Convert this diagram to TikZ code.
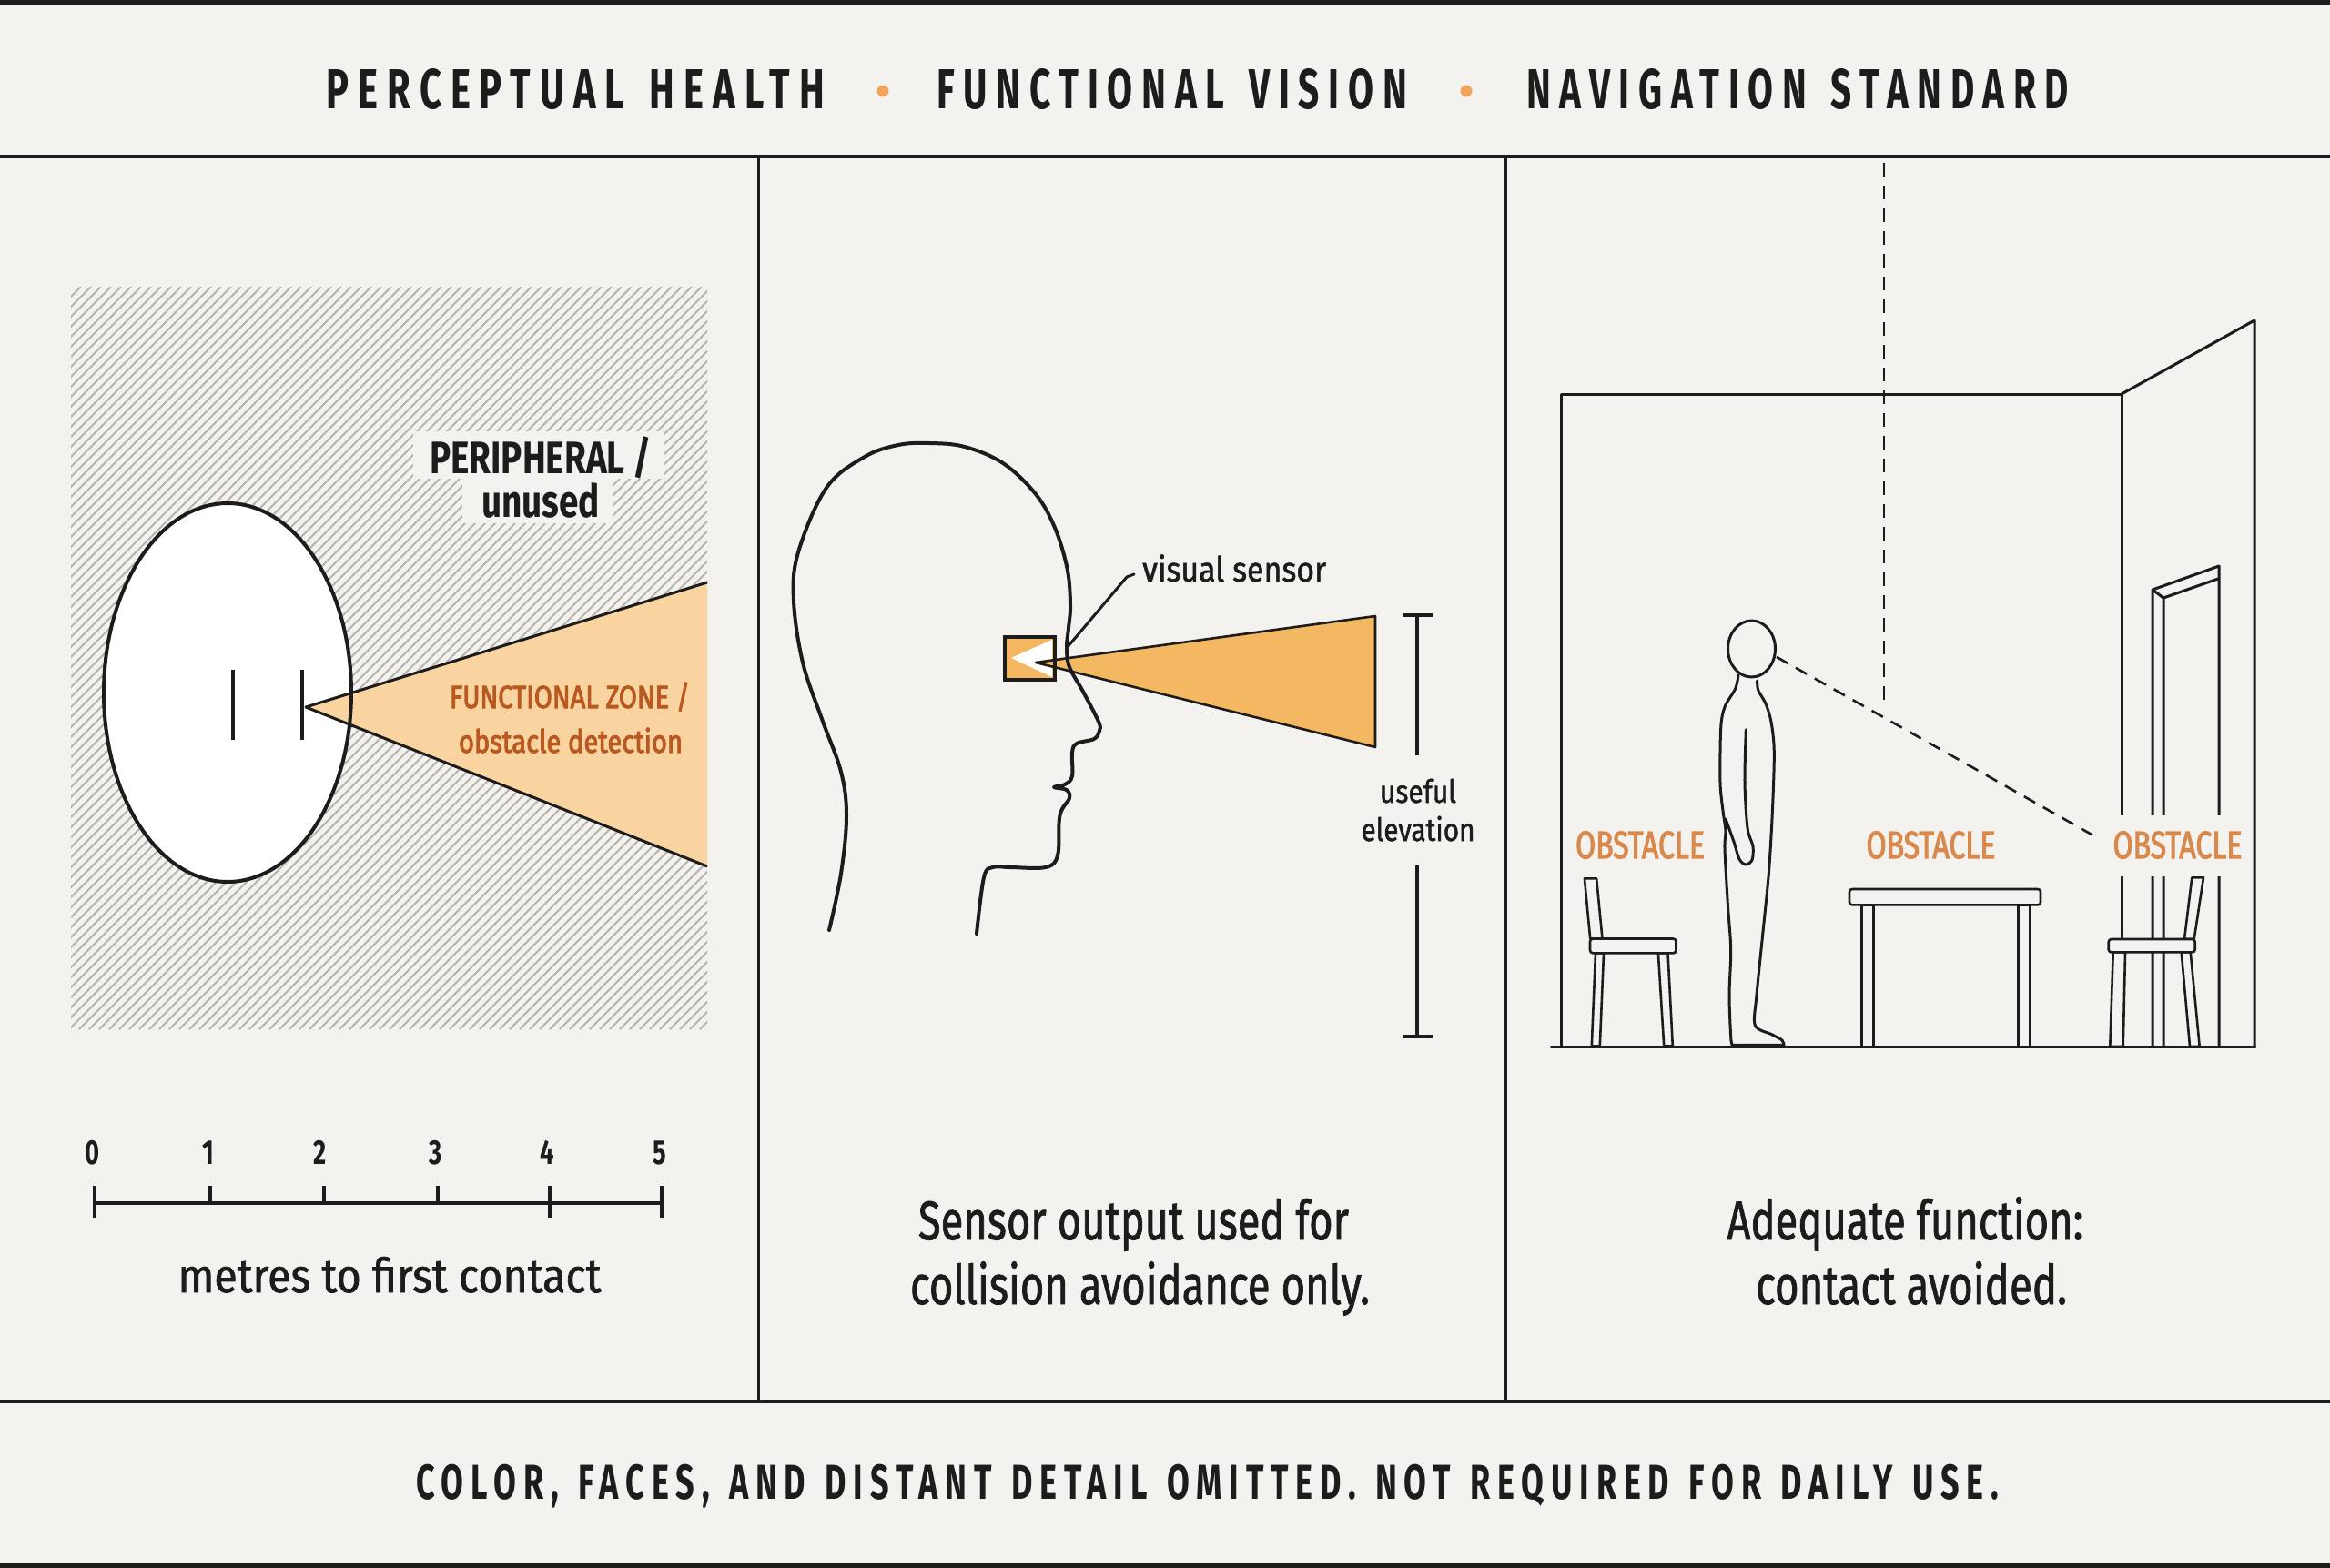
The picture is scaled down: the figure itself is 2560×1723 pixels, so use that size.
\documentclass[tikz,border=0pt]{standalone}
\usepackage{fontspec}
\usepackage{graphicx}
\setmainfont{Fira Sans}
\newfontfamily\hdrfont[LetterSpace=24,WordSpace=1.4]{Fira Sans}
\newfontfamily\ftrfont[LetterSpace=22,WordSpace=1.3]{Fira Sans}
\definecolor{bg}{HTML}{F4F2EE}
\definecolor{ink}{HTML}{1C1C1C}
\definecolor{hatchc}{HTML}{B7B2AC}
\definecolor{peach}{HTML}{F9D4A0}
\definecolor{orng}{HTML}{F4B862}
\definecolor{dotc}{HTML}{F2A45B}
\definecolor{zonec}{HTML}{B9581F}
\definecolor{obstc}{HTML}{D9894C}
\newcommand\fitto[2]{\resizebox{#1pt}{\height}{#2}}
\tikzset{
  txt/.style={inner sep=0pt, anchor=base, text=ink},
  frame/.style={draw=ink, line width=4.5pt},
  thick ink/.style={draw=ink, line width=4pt, line join=round, line cap=round},
  room/.style={draw=ink, line width=3pt, line join=round, line cap=round},
  furn/.style={fill=bg, draw=ink, line width=2.6pt, line join=round},
  hatchline/.style={draw=hatchc, line width=1.8pt},
  obst/.style={inner sep=0pt, anchor=base, text=obstc},
}
\begin{document}
\begin{tikzpicture}[x=1pt,y=-1pt]
\useasboundingbox (0,0) rectangle (2560,1723);
\fill[bg] (0,0) rectangle (2560,1723);

% ---------- frame ----------
\draw[frame] (0,2.5) -- (2560,2.5);
\draw[frame] (0,172) -- (2560,172);
\draw[frame] (0,1540) -- (2560,1540);
\draw[frame] (0,1720.5) -- (2560,1720.5);
\draw[draw=ink, line width=3pt] (833,172) -- (833,1540);
\draw[draw=ink, line width=3pt] (1654,172) -- (1654,1540);

% ---------- header ----------
\node[txt] (h1) at (632.5,120) {\hdrfont\bfseries\fontsize{62}{70}\selectfont\fitto{547}{PERCEPTUAL HEALTH}};
\node[txt] (h2) at (1287.5,120) {\hdrfont\bfseries\fontsize{62}{70}\selectfont\fitto{517}{FUNCTIONAL VISION}};
\node[txt] (h3) at (1975,120) {\hdrfont\bfseries\fontsize{62}{70}\selectfont\fitto{596}{NAVIGATION STANDARD}};
\fill[dotc] (970,100) circle (6.5);
\fill[dotc] (1611,100) circle (6.5);

% ---------- footer ----------
\node[txt] (foot) at (1326.5,1647) {\ftrfont\bfseries\fontsize{54}{60}\selectfont\fitto{1739}{COLOR, FACES, AND DISTANT DETAIL OMITTED. NOT REQUIRED FOR DAILY USE.}};

% ---------- left panel ----------
\begin{scope}
  \clip (78,315) rectangle (777,1131);
  \foreach \i in {0,11,...,1540} \draw[hatchline] ({\i-738},1131) -- ({\i+78},315);
\end{scope}
\fill[bg] (454,474) rectangle (730,526);
\fill[bg] (508,526) rectangle (673,575);
\fill[white] (250,761) ellipse [x radius=136, y radius=208];
\fill[peach] (336,777) -- (777,640) -- (777,952) -- cycle;
\draw[thick ink] (250,761) ellipse [x radius=136, y radius=208];
\draw[draw=ink, line width=3pt, line join=round] (777,640) -- (336,777) -- (777,952);
\draw[thick ink, line cap=butt] (256,736) -- (256,813);
\draw[thick ink, line cap=butt] (332,736) -- (332,813);

\node[txt] (per1) at (594,520) {\fontsize{50}{56}\selectfont\bfseries\fitto{244}{PERIPHERAL /}};
\node[txt] (per2) at (594,568) {\fontsize{50}{56}\selectfont\bfseries\fitto{130}{unused}};
\node[txt, text=zonec] (zone1) at (626,778) {\fontsize{35}{40}\selectfont\addfontfeature{FakeBold=3}\fitto{264}{FUNCTIONAL ZONE /}};
\node[txt, text=zonec] (zone2) at (627,827) {\fontsize{35}{40}\selectfont\addfontfeature{FakeBold=3}\fitto{246}{obstacle detection}};

% scale bar
\draw[draw=ink, line width=4pt] (104,1322) -- (727,1322);
\foreach \x in {104,604,727} \draw[draw=ink, line width=4pt] (\x,1303) -- (\x,1338);
\foreach \x in {231,356,481} \draw[draw=ink, line width=4pt] (\x,1303) -- (\x,1322);
\node[txt] (n0) at (102,1279) {\fontsize{38}{44}\selectfont\bfseries\scalebox{0.72}[1]{0}};
\node[txt] (n1) at (229,1279) {\fontsize{38}{44}\selectfont\bfseries\scalebox{0.72}[1]{1}};
\node[txt] (n2) at (352,1279) {\fontsize{38}{44}\selectfont\bfseries\scalebox{0.72}[1]{2}};
\node[txt] (n3) at (479,1279) {\fontsize{38}{44}\selectfont\bfseries\scalebox{0.72}[1]{3}};
\node[txt] (n4) at (601,1279) {\fontsize{38}{44}\selectfont\bfseries\scalebox{0.72}[1]{4}};
\node[txt] (n5) at (725,1279) {\fontsize{38}{44}\selectfont\bfseries\scalebox{0.72}[1]{5}};
\node[txt] (metres) at (428,1420) {\fontsize{52}{60}\selectfont\addfontfeature{FakeBold=1.5}\fitto{465}{metres to first contact}};

% ---------- middle panel ----------
\fill[orng] (1104,700) rectangle (1159,747);
\fill[white] (1111,723) -- (1156,703) -- (1156,744) -- cycle;
\filldraw[fill=orng, draw=ink, line width=2.6pt, line join=round] (1138,728) -- (1511,677) -- (1511,821) -- cycle;
\draw[draw=ink, line width=4pt] (1104,700) rectangle (1159,747);
\draw[thick ink] plot[smooth, tension=0.6] coordinates {
 (911,1022) (924,960) (930,897) (924,848) (903,790) (882,728) (872,660) (877,607)
 (908,536) (950,502) (987,489) (1021,487) (1060,491) (1102,509) (1138,543)
 (1159,580) (1172.6,625) (1176,665) (1174,690)
 (1172,712) (1175,733) (1190,760) (1207,793) (1208,803) (1202,812) (1183,817)
 (1178,827) (1178,853) (1170,862) (1158,865) (1172,868) (1175,877) (1167,889)
 (1163.7,902) (1162,940) (1149,953) (1110,953) (1091,953) (1081,964) (1073,1026)};
\draw[draw=ink, line width=3pt, line join=round, line cap=round] (1172,712) -- (1238,634) -- (1246,631);
\node[txt, anchor=base west] (vis) at (1255,639) {\fontsize{38}{44}\selectfont\addfontfeature{FakeBold=1.5}\fitto{202}{visual sensor}};

\draw[draw=ink, line width=3.5pt] (1541,676) -- (1574,676);
\draw[draw=ink, line width=3.5pt] (1557,676) -- (1557,830);
\draw[draw=ink, line width=3.5pt] (1557,951) -- (1557,1139);
\draw[draw=ink, line width=3.5pt] (1541,1139) -- (1574,1139);
\node[txt] (use1) at (1558,882) {\fontsize{35}{40}\selectfont\addfontfeature{FakeBold=1.5}\fitto{84}{useful}};
\node[txt] (use2) at (1558,924) {\fontsize{35}{40}\selectfont\addfontfeature{FakeBold=1.5}\fitto{125}{elevation}};

\node[txt] (cap1) at (1245.5,1362) {\fontsize{60}{66}\selectfont\addfontfeature{FakeBold=1.5}\fitto{473}{Sensor output used for}};
\node[txt] (cap2) at (1252.5,1433) {\fontsize{60}{66}\selectfont\addfontfeature{FakeBold=1.5}\fitto{505}{collision avoidance only.}};

% ---------- right panel ----------
\draw[room] (1715,1150) -- (1715,433) -- (2331,433) -- (2331,1150);
\draw[room] (2331,433) -- (2477,352) -- (2477,1150);
\draw[draw=ink, line width=2.6pt, dash pattern=on 15pt off 10pt] (2070,179) -- (2070,775);
% door
\draw[room] (2365,1150) -- (2365,648) -- (2438,622) -- (2438,1150);
\draw[room] (2377,1150) -- (2377,657) -- (2437,636);
\draw[room] (2365,648) -- (2377,657);
% sight line
\draw[draw=ink, line width=2.6pt, dash pattern=on 14pt off 10pt] (1952,722) -- (2307,922);
% person
\draw[room] (1924.5,713) ellipse [x radius=26, y radius=31];
\draw[room] plot[smooth, tension=0.5] coordinates {
 (1910,741.7) (1906.7,756.7) (1895,776.7) (1890.7,800) (1890,860) (1893.3,893.3)
 (1896,913) (1895,933) (1898.3,993.3) (1901.7,1043.3) (1900,1093.3) (1901.7,1140) (1903.3,1148.3)}
 -- plot[smooth, tension=0.5] coordinates {
 (1960,1148.3) (1958,1143) (1946.7,1136.7) (1928.3,1126.7) (1930,1093.3) (1936.7,1026.7)
 (1943.3,960) (1947.3,893.3) (1949.3,826.7) (1946,793.3) (1940,773.3) (1931.7,758.3) (1930.7,748)};
\draw[room] plot[smooth, tension=0.5] coordinates {
 (1918.3,801.7) (1917,860) (1920,910) (1926,930) (1925,945) (1918,950) (1911,944) (1905,925) (1896,900)};
% left chair
\filldraw[furn] (1740.9,965.3) -- (1754.1,965.3) -- (1760.5,1031.5) -- (1747.2,1031.5) -- cycle;
\filldraw[furn] (1753,1047.3) -- (1762,1047.3) -- (1757.8,1149.5) -- (1748.8,1149.5) -- cycle;
\filldraw[furn] (1821.9,1047.3) -- (1832.5,1047.3) -- (1837.8,1149.5) -- (1828.2,1149.5) -- cycle;
\filldraw[furn, rounded corners=3pt] (1747,1031.5) rectangle (1841.5,1047.3);
% table
\filldraw[furn] (2045.3,994.4) rectangle (2058.5,1150);
\filldraw[furn] (2217.3,994.4) rectangle (2230.6,1150);
\filldraw[furn, rounded corners=3pt] (2032,977) rectangle (2242,994.4);
% right chair
\filldraw[furn] (2408.3,964.3) -- (2421,964.3) -- (2410.7,1032) -- (2400,1032) -- cycle;
\filldraw[furn] (2321.7,1046.4) -- (2335,1046.4) -- (2332.7,1150) -- (2318.3,1150) -- cycle;
\filldraw[furn] (2396.7,1046.4) -- (2406.7,1046.4) -- (2416.7,1150) -- (2406,1150) -- cycle;
\filldraw[furn, rounded corners=3pt] (2316.7,1032) rectangle (2411.7,1046.4);
\draw[room] (1704,1150) -- (2478,1150);
% labels
\fill[bg] (2316,896) rectangle (2469,963);
\node[obst] (ob1) at (1802,943) {\fontsize{42}{48}\selectfont\addfontfeature{FakeBold=3}\fitto{142}{OBSTACLE}};
\node[obst] (ob2) at (2121.5,943) {\fontsize{42}{48}\selectfont\addfontfeature{FakeBold=3}\fitto{142}{OBSTACLE}};
\node[obst] (ob3) at (2392.5,943) {\fontsize{42}{48}\selectfont\addfontfeature{FakeBold=3}\fitto{142}{OBSTACLE}};

\node[txt] (cap3) at (2093,1362) {\fontsize{60}{66}\selectfont\addfontfeature{FakeBold=1.5}\fitto{391}{Adequate function:}};
\node[txt] (cap4) at (2100,1433) {\fontsize{60}{66}\selectfont\addfontfeature{FakeBold=1.5}\fitto{342}{contact avoided.}};
\end{tikzpicture}
\end{document}
